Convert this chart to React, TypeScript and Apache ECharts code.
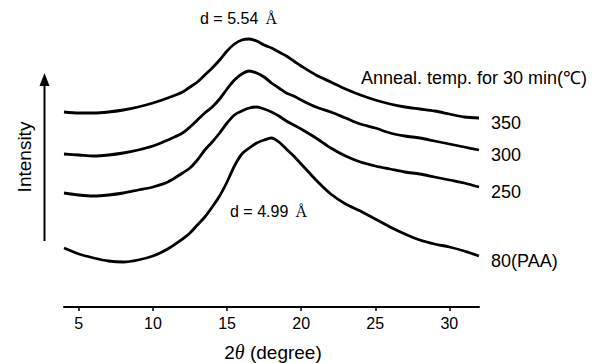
import React, { useEffect, useRef } from "react";
import * as echarts from "echarts";

// 2θ positions (degree)
const twoTheta = [4, 5, 6, 7, 8, 9, 10, 11, 12, 12.5, 13, 13.5, 14, 14.5, 15, 15.5, 16, 16.5, 17, 17.5, 18, 18.5, 19, 19.5, 20, 21, 22, 23, 24, 25, 26, 27, 28, 29, 30, 31, 32];
const twoTheta80 = [4, 4.5, 5, 6, 7, 8, 9, 10, 11, 12, 12.5, 13, 13.5, 14, 14.5, 15, 15.5, 16, 16.5, 17, 17.5, 18, 18.5, 19, 19.5, 20, 20.5, 21, 22, 23, 24, 25, 26, 27, 28, 29, 30, 31, 32];

// offset intensities (arbitrary units)
const i350 = [195, 194, 194, 195, 197, 200, 204, 209, 215, 220, 225, 232, 239, 247, 256, 263, 267, 268, 266, 262, 259, 255, 251, 246, 241, 232, 225, 218, 212, 207, 203, 200, 198, 196, 193, 190, 189];
const i300 = [153, 152, 151, 152, 154, 157, 161, 167, 174, 180, 187, 194, 200, 208, 218, 227, 233, 236, 234, 230, 224, 219, 214, 211, 207, 200, 195, 189, 183, 179, 174, 171, 169, 166, 163, 160, 157];
const i250 = [114, 112, 111, 112, 114, 117, 120, 125, 134, 139, 147, 157, 165, 174, 184, 192, 196, 199, 200, 198, 195, 191, 186, 182, 178, 169, 159, 151, 145, 141, 138, 135, 133, 130, 127, 124, 120];
const i80 = [59, 56, 53, 49, 46, 45, 47, 51, 58, 68, 74, 82, 90, 100, 111, 125, 141, 153, 159, 164, 167, 169, 165, 158, 151, 143, 135, 127, 113, 103, 96, 88, 80, 73, 67, 63, 60, 56, 51];

const seriesNames = ["350", "300", "250", "80(PAA)"];
const xTicks = [5, 10, 15, 20, 25, 30];

const sans = "'Liberation Sans', Arial, sans-serif";
const serif = "'Liberation Serif', 'DejaVu Serif', serif";

export default function App() {
  const ref = useRef<HTMLDivElement>(null);
  useEffect(() => {
    document.body.style.margin = "0";
    if (!ref.current) return;
    const chart = echarts.init(ref.current, undefined, { renderer: "svg" });
    const pairs = (xs: number[], ys: number[]) => xs.map((x, i) => [x, ys[i]]);
    const datas = [pairs(twoTheta, i350), pairs(twoTheta, i300), pairs(twoTheta, i250), pairs(twoTheta80, i80)];
    chart.setOption({
      animation: false,
      backgroundColor: "#ffffff",
      grid: { left: 64, right: 129, top: 7, bottom: 56 },
      xAxis: {
        type: "value",
        min: 4,
        max: 32,
        splitLine: { show: false },
        axisLine: { show: true, onZero: false, lineStyle: { color: "#000", width: 2 } },
        axisTick: { show: true, customValues: xTicks, length: 4, lineStyle: { color: "#000", width: 1.5 } },
        axisLabel: { customValues: xTicks, color: "#000", fontSize: 16, fontFamily: sans, margin: 8 },
      },
      yAxis: { type: "value", min: 0, max: 300, show: false },
      series: datas.map((d, k) => ({
        type: "line",
        name: seriesNames[k],
        data: d,
        showSymbol: false,
        smooth: 0.3,
        lineStyle: { color: "#000", width: 2.8 },
        endLabel: {
          show: true,
          formatter: seriesNames[k],
          color: "#000",
          fontSize: 18,
          fontFamily: sans,
          distance: 12,
          offset: [0, 5],
        },
      })),
      graphic: [
        {
          type: "text",
          x: 200,
          y: 18,
          style: {
            text: "{a|d = 5.54} {b|Å}",
            verticalAlign: "middle",
            rich: {
              a: { fontSize: 16, fontFamily: sans, fill: "#000" },
              b: { fontSize: 16, fontFamily: serif, fill: "#000", padding: [0, 0, 0, 4] },
            },
          },
        },
        {
          type: "text",
          x: 230,
          y: 211,
          style: {
            text: "{a|d = 4.99} {b|Å}",
            verticalAlign: "middle",
            rich: {
              a: { fontSize: 16, fontFamily: sans, fill: "#000" },
              b: { fontSize: 16, fontFamily: serif, fill: "#000", padding: [0, 0, 0, 4] },
            },
          },
        },
        {
          type: "text",
          x: 361,
          y: 78,
          style: {
            text: "Anneal. temp. for 30 min(℃)",
            fontSize: 18,
            fontFamily: sans,
            fill: "#000",
            verticalAlign: "middle",
          },
        },
        {
          type: "text",
          x: 273,
          y: 352,
          style: {
            text: "{a|2}{b|θ}{a| (degree)}",
            align: "center",
            verticalAlign: "middle",
            rich: {
              a: { fontSize: 19, fontFamily: sans, fill: "#000" },
              b: { fontSize: 20, fontFamily: serif, fontStyle: "italic", fill: "#000" },
            },
          },
        },
        {
          type: "text",
          x: 24,
          y: 157,
          rotation: Math.PI / 2,
          style: {
            text: "Intensity",
            fontSize: 19,
            fontFamily: sans,
            fill: "#000",
            align: "center",
            verticalAlign: "middle",
          },
        },
        {
          type: "line",
          shape: { x1: 44.5, y1: 241, x2: 44.5, y2: 84 },
          style: { stroke: "#000", lineWidth: 2 },
        },
        {
          type: "polygon",
          shape: { points: [[44.5, 73], [39.5, 86], [49.5, 86]] },
          style: { fill: "#000" },
        },
      ],
    });
    return () => chart.dispose();
  }, []);
  return <div ref={ref} style={{ width: 608, height: 363 }} />;
}
